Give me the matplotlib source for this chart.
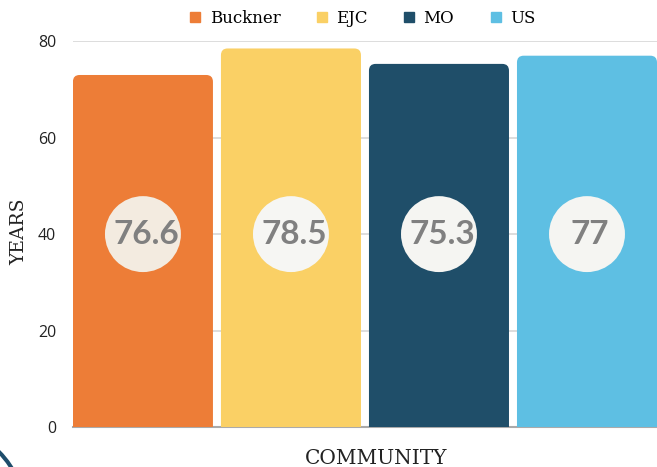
import matplotlib
matplotlib.use("Agg")
import matplotlib.pyplot as plt
from matplotlib.patches import FancyBboxPatch, Circle
from matplotlib.lines import Line2D
from matplotlib.transforms import IdentityTransform

# data
communities = ["Buckner", "EJC", "MO", "US"]
bar_years = [73.0, 78.5, 75.3, 77.0]
label_text = ["76.6", "78.5", "75.3", "77"]
y_ticks = [0, 20, 40, 60, 80]
y_tick_labels = ["0", "20", "40", "60", "80"]

colors = ["#ED7D37", "#FAD065", "#1F4E69", "#5EBFE3"]
circle_colors = ["#F3EBE0", "#F6F6F3", "#F5F5F2", "#F5F5F2"]

fig = plt.figure(figsize=(6.57, 4.67), dpi=100)
ax = fig.add_axes([0.111, 0.0857, 0.889, 0.826])

x = list(range(len(communities)))
bar_w = 0.946
bars = ax.bar(x, bar_years, width=bar_w, color=colors, zorder=2)

# swap plain bars for ones with rounded tops (bottom is clipped by the axes)
for b, c in zip(bars, colors):
    b.remove()
    p = FancyBboxPatch((b.get_x(), -5), b.get_width(), b.get_height() + 5,
                       boxstyle="round,pad=0,rounding_size=0.045",
                       mutation_aspect=31, facecolor=c, edgecolor="none",
                       zorder=2)
    ax.add_patch(p)

ax.set_xlim(-bar_w / 2, len(communities) - 1 + bar_w / 2)
ax.set_ylim(0, 80)

ax.scatter(x, [40] * len(x), s=2990, c=circle_colors, zorder=3, linewidths=0)
for xi, t in zip(x, label_text):
    ax.text(xi + 0.02, 40, t, ha="center", va="center", fontsize=24,
            fontfamily="Lato", fontweight="bold", color="#808080", zorder=4)

ax.set_yticks(y_ticks)
ax.set_yticklabels(y_tick_labels, fontfamily="Open Sans", fontsize=11.5,
                   color="#222222")
ax.tick_params(axis="y", length=0, pad=12)
ax.set_xticks([])
ax.grid(axis="y", color="#DDDDDD", linewidth=1.4, zorder=0)
ax.set_axisbelow(True)
for s in ["top", "right", "left"]:
    ax.spines[s].set_visible(False)
ax.spines["bottom"].set_color("#AAAAAA")
ax.spines["bottom"].set_linewidth(1.5)
ax.spines["bottom"].set_zorder(1)

ax.set_ylabel("YEARS", fontfamily="DejaVu Serif", fontsize=13.5, color="#222222")
ax.yaxis.set_label_coords(-0.076, 0.505)
ax.set_xlabel("COMMUNITY", fontfamily="DejaVu Serif", fontsize=14.5, color="#222222")
ax.xaxis.set_label_coords(0.519, -0.058)

handles = [Line2D([], [], marker="s", linestyle="", color=c, markersize=7)
           for c in colors]
fig.legend(handles, communities, loc="center", bbox_to_anchor=(0.551, 0.961),
           ncol=4, frameon=False, handlelength=0.8, handletextpad=0.45,
           columnspacing=2.1, prop={"family": "DejaVu Serif", "size": 12})

# decorative ring peeking in at the bottom-left corner
ring = Circle((-64.5, -48), 89.5, transform=IdentityTransform(), fill=False,
              edgecolor="#1E4D6B", linewidth=2.9)
fig.patches.append(ring)

fig.savefig("out.png", dpi=100)
